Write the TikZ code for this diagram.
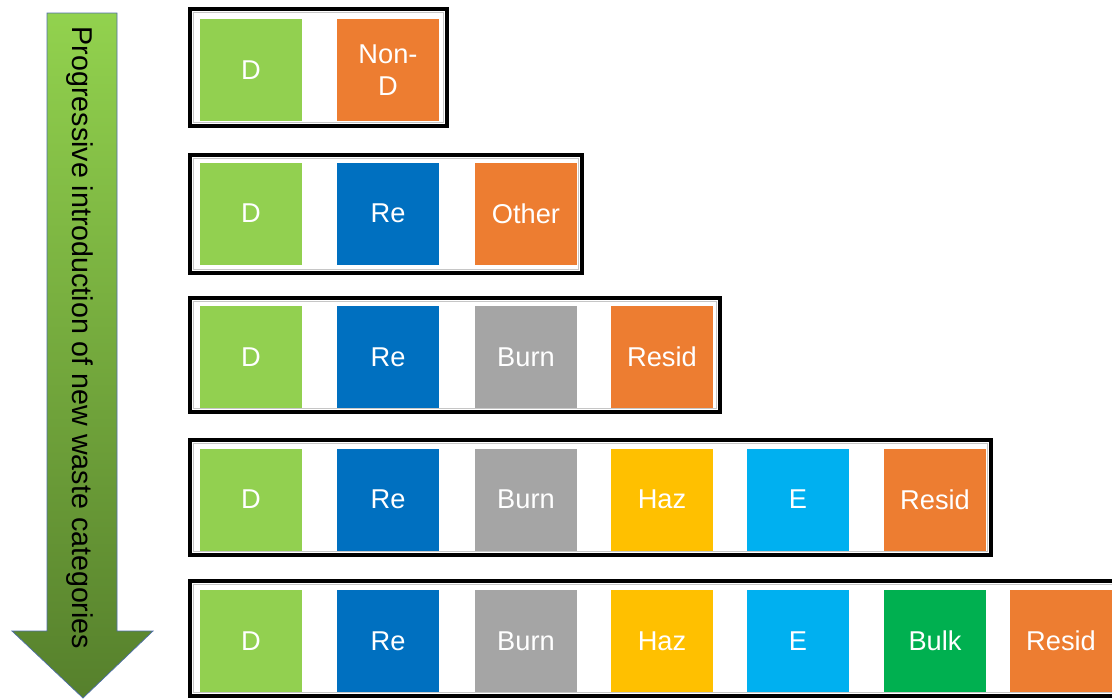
\documentclass[tikz,border=0pt]{standalone}
\usepackage{fontspec}
\setmainfont{Liberation Sans}

\definecolor{dgreen}{HTML}{92D050}
\definecolor{worange}{HTML}{ED7D31}
\definecolor{reblue}{HTML}{0070C0}
\definecolor{burngray}{HTML}{A5A5A5}
\definecolor{hazyellow}{HTML}{FFC000}
\definecolor{ecyan}{HTML}{00B0F0}
\definecolor{bulkgreen}{HTML}{00B050}
\definecolor{arrowtop}{RGB}{146,210,78}
\definecolor{arrowbot}{RGB}{86,128,44}
\definecolor{arrowline}{RGB}{79,110,170}

\tikzset{
  cat/.style={minimum width=2.04cm, minimum height=2.04cm, inner sep=0pt,
    text=white, align=center, font=\fontsize{15.5}{18.5}\selectfont},
  frame/.style={draw=black, line width=2.8pt},
}

\begin{document}
\begin{tikzpicture}[x=0.02cm, y=-0.02cm]
\useasboundingbox (0,0) rectangle (1112,698);

% Big arrow on the left
\shadedraw[top color=arrowtop, bottom color=arrowbot, draw=arrowline, thin]
  (47,13) -- (117,13) -- (117,631) -- (153,631) -- (83,698) -- (12,631) -- (47,631) -- cycle;
\node[rotate=-90, inner sep=0pt, font=\fontsize{16.3}{18}\selectfont] (title) at (80,338)
  {Progressive introduction of new waste categories};

% Frames round each row
\foreach \t/\b/\r in {9/126/447, 155/273/582, 298/412/720, 440/555/991, 581/696/1140} {
  \draw[gray!45, very thin] (193,\t+3.5) rectangle (\r-3.5,\b-3.5);
  \draw[frame] (190,\t) rectangle (\r,\b);
}

% Row 1
\foreach \x/\c/\t [count=\i] in {251/dgreen/D, 388/worange/{Non-\\D}}
  \node[cat, fill=\c] (r1-\i) at (\x,70) {\t};

% Row 2
\foreach \x/\c/\t [count=\i] in {251/dgreen/D, 388/reblue/Re, 526/worange/Other}
  \node[cat, fill=\c] (r2-\i) at (\x,213.5) {\t};

% Row 3
\foreach \x/\c/\t [count=\i] in {251/dgreen/D, 388/reblue/Re, 526/burngray/Burn,
                                 662/worange/Resid}
  \node[cat, fill=\c] (r3-\i) at (\x,357) {\t};

% Row 4
\foreach \x/\c/\t [count=\i] in {251/dgreen/D, 388/reblue/Re, 526/burngray/Burn,
                                 662/hazyellow/Haz, 798/ecyan/E, 935/worange/Resid}
  \node[cat, fill=\c] (r4-\i) at (\x,499.5) {\t};

% Row 5
\foreach \x/\c/\t [count=\i] in {251/dgreen/D, 388/reblue/Re, 526/burngray/Burn,
                                 662/hazyellow/Haz, 798/ecyan/E, 935/bulkgreen/Bulk,
                                 1061/worange/Resid}
  \node[cat, fill=\c] (r5-\i) at (\x,641) {\t};

\end{tikzpicture}
\end{document}
